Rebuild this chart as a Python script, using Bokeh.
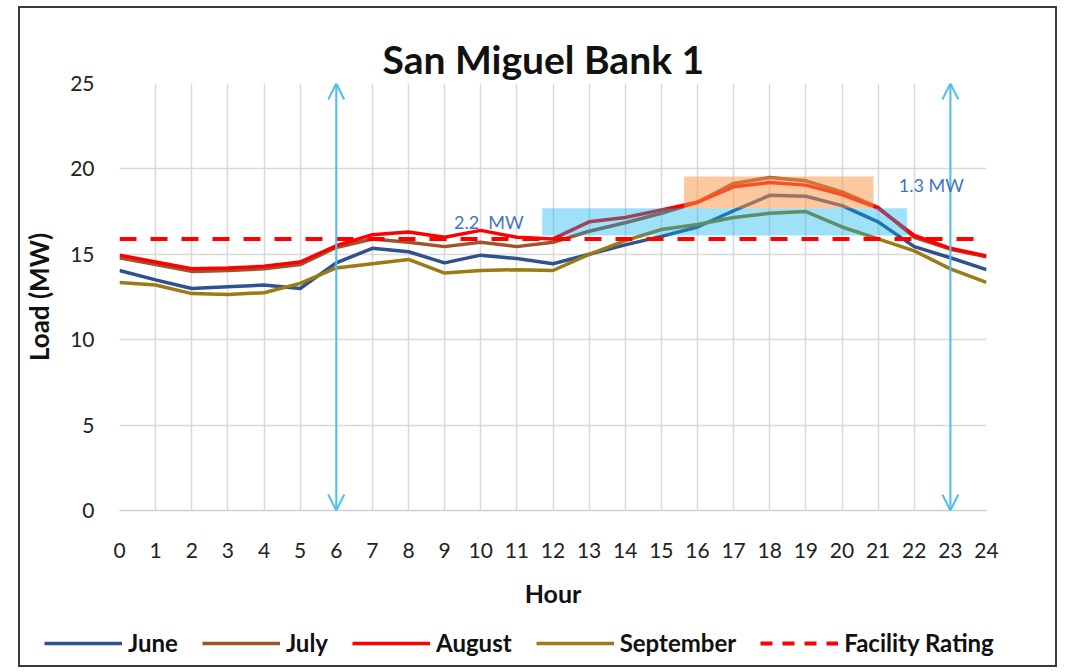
from bokeh.plotting import figure
from bokeh.layouts import column
from bokeh.models import (Range1d, Arrow, OpenHead, Legend, LegendItem, Label,
                          FixedTicker, ColumnDataSource)
from bokeh.embed import file_html
from bokeh.resources import INLINE

# ---------------- data ----------------
hours = list(range(25))
june = [14.05, 13.5, 13.0, 13.1, 13.2, 13.0, 14.5, 15.35, 15.15, 14.5, 14.95, 14.75, 14.45,
        15.0, 15.55, 16.05, 16.6, 17.55, 18.45, 18.4, 17.85, 16.9, 15.45, 14.8, 14.1]
july = [14.8, 14.4, 14.0, 14.05, 14.15, 14.4, 15.4, 15.9, 15.7, 15.45, 15.7, 15.45, 15.7,
        16.35, 16.85, 17.4, 18.05, 19.15, 19.5, 19.3, 18.65, 17.75, 16.0, 15.3, 14.85]
august = [14.95, 14.55, 14.15, 14.2, 14.3, 14.55, 15.5, 16.15, 16.3, 16.0, 16.4, 16.0, 15.9,
          16.9, 17.15, 17.6, 18.05, 18.95, 19.2, 19.05, 18.5, 17.7, 16.1, 15.35, 14.9]
september = [13.35, 13.2, 12.7, 12.65, 12.75, 13.3, 14.2, 14.45, 14.7, 13.9, 14.05, 14.1, 14.05,
             15.0, 15.8, 16.45, 16.75, 17.15, 17.4, 17.5, 16.6, 15.9, 15.2, 14.15, 13.35]
facility_rating = 15.9
rating_hours = [0, 24]

# highlighted boxes (hour span, MW span)
box_left = [11.7, 15.63]
box_right = [21.8, 20.87]
box_bottom = [16.1, 17.7]
box_top = [17.7, 19.55]

# arrows (hour positions, MW span)
arrow_hours = [6, 23]
arrow_low = [0, 0]
arrow_high = [25, 25]

# annotation texts
note_texts = ["2.2\u00a0\u00a0MW", "1.3 MW"]
note_hours = [9.26, 21.57]
note_mw = [16.9, 19.03]

y_ticks = [0, 5, 10, 15, 20, 25]
series_names = ["June", "July", "August", "September", "Facility Rating"]

FONT = "Lato"
C_JUNE, C_JULY, C_AUG, C_SEP = "#2f528f", "#a0522d", "#ff0000", "#9c7a14"

p = figure(width=1035, height=607, output_backend="svg", toolbar_location=None,
           x_range=Range1d(0, 24), y_range=Range1d(0, 25),
           min_border_left=93, min_border_right=69, min_border_top=75,
           min_border_bottom=105)
p.frame_align = False

p.title.text = "San Miguel Bank 1"
p.title.text_font = FONT
p.title.text_font_size = "39px"
p.title.text_font_style = "bold"
p.title.text_color = "#111111"
p.title.align = "left"
p.title.offset = 263
p.title.standoff = 4

p.outline_line_color = None
p.background_fill_color = "white"
p.border_fill_color = "white"

# grid
p.xgrid.ticker = FixedTicker(ticks=hours)
p.ygrid.ticker = FixedTicker(ticks=y_ticks)
p.xgrid.grid_line_color = "#d9d9d9"
p.ygrid.grid_line_color = "#d9d9d9"
p.xgrid.grid_line_width = 1.5
p.ygrid.grid_line_width = 1.5

# axes
p.xaxis.ticker = FixedTicker(ticks=hours)
p.yaxis.ticker = FixedTicker(ticks=y_ticks)
for ax in (p.xaxis[0], p.yaxis[0]):
    ax.major_tick_line_color = None
    ax.minor_tick_line_color = None
    ax.major_label_text_font = FONT
    ax.major_label_text_font_size = "21px"
    ax.major_label_text_color = "#222222"
    ax.axis_label_text_font = FONT
    ax.axis_label_text_font_style = "bold"
    ax.axis_label_text_color = "#111111"
p.xaxis.axis_line_color = "#d0d0d0"
p.xaxis.axis_line_width = 1.5
p.yaxis.axis_line_color = None
p.xaxis.major_label_standoff = 26
p.yaxis.major_label_standoff = 19
p.xaxis.axis_label = "Hour"
p.xaxis.axis_label_text_font_size = "25px"
p.xaxis.axis_label_standoff = 17
p.yaxis.axis_label = "Load (MW)"
p.yaxis.axis_label_text_font_size = "26px"
p.yaxis.axis_label_standoff = 12

LW = 3.5
series = [june, july, august, september]
line_styles = [dict(line_color=C_JUNE, line_width=LW),
               dict(line_color=C_JULY, line_width=LW),
               dict(line_color=C_AUG, line_width=LW),
               dict(line_color=C_SEP, line_width=LW)]
rating_style = dict(line_color=C_AUG, line_width=4, line_dash="17 14")

for ys, st in zip(series, line_styles):
    p.line(hours, ys, **st)
p.line(rating_hours, [facility_rating] * len(rating_hours), **rating_style)

# translucent boxes over lines
p.quad(left=box_left[:1], right=box_right[:1], bottom=box_bottom[:1], top=box_top[:1],
       fill_color="#00b0f0", fill_alpha=0.38, line_color=None)
p.quad(left=box_left[1:], right=box_right[1:], bottom=box_bottom[1:], top=box_top[1:],
       fill_color="#f79646", fill_alpha=0.52, line_color=None)

# arrows
arrow_src = ColumnDataSource(dict(x=arrow_hours, y0=arrow_low, y1=arrow_high))
p.add_layout(Arrow(x_start="x", y_start="y0", x_end="x", y_end="y1", source=arrow_src,
                   line_color="#4cc0ee", line_width=2,
                   start=OpenHead(size=16, line_color="#4cc0ee", line_width=2),
                   end=OpenHead(size=16, line_color="#4cc0ee", line_width=2)))

for t, xh, ym in zip(note_texts, note_hours, note_mw):
    p.add_layout(Label(x=xh, y=ym, text=t, text_font=FONT, text_font_size="18px",
                       text_color="#4472c4", text_baseline="middle", text_align="left"))

# ---- legend strip: a small figure without axes whose view shows none of the data ----
pl = figure(width=1035, height=50, output_backend="svg", toolbar_location=None,
            min_border=0, x_axis_location=None, y_axis_location=None,
            x_range=Range1d(-10, -9), y_range=Range1d(-10, -9))
pl.frame_align = False
pl.grid.visible = False
pl.outline_line_color = None
items = []
for name, ys, st in zip(series_names[:4], series, line_styles):
    r = pl.line(hours, ys, **st)
    items.append(LegendItem(label=name, renderers=[r]))
r = pl.line(rating_hours, [facility_rating] * len(rating_hours),
            line_color=C_AUG, line_width=4, line_dash="12 10")
items.append(LegendItem(label=series_names[4], renderers=[r]))
legend = Legend(items=items, orientation="horizontal", location=(24, 8),
                label_text_font=FONT, label_text_font_size="24px",
                label_text_font_style="bold", label_text_color="#111111",
                glyph_width=78, label_standoff=6, spacing=24,
                padding=0, margin=0, border_line_color=None,
                background_fill_alpha=0)
pl.add_layout(legend)

layout = column(p, pl, spacing=0,
                styles={"border": "2px solid #3a3a3a", "margin-left": "18px",
                        "margin-top": "6px"})

open("out.html", "w").write(file_html(layout, INLINE))
